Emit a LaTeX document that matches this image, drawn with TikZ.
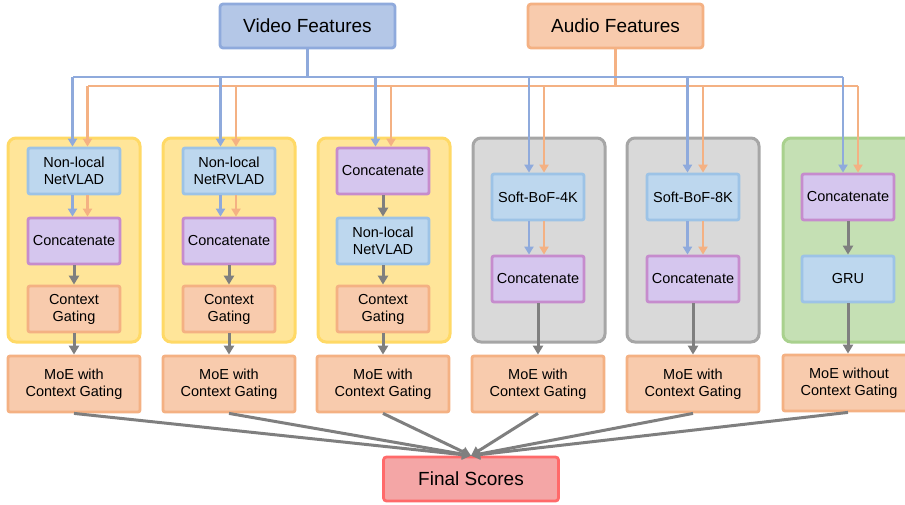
\documentclass[tikz,border=0pt]{standalone}
\usepackage{fontspec}
\setmainfont{Liberation Sans}
\usetikzlibrary{arrows.meta}

\definecolor{vidfill}{HTML}{B4C7E7}
\definecolor{vidline}{HTML}{8FAADC}
\definecolor{audfill}{HTML}{F8CBAD}
\definecolor{audline}{HTML}{F4B183}
\definecolor{yelfill}{HTML}{FFE599}
\definecolor{yelline}{HTML}{FFD966}
\definecolor{greyfill}{HTML}{D9D9D9}
\definecolor{greyline}{HTML}{A6A6A6}
\definecolor{grnfill}{HTML}{C5E0B4}
\definecolor{grnline}{HTML}{A9D18E}
\definecolor{encfill}{HTML}{BDD7EE}
\definecolor{encline}{HTML}{9DC3E6}
\definecolor{catfill}{HTML}{D5C6EE}
\definecolor{catline}{HTML}{C68CCD}
\definecolor{scorefill}{HTML}{F4A6A6}
\definecolor{scoreline}{HTML}{FF6A6A}
\definecolor{flow}{HTML}{7F7F7F}

\begin{document}
\begin{tikzpicture}[x=1pt,y=-1pt,
  featbox/.style={draw,rounded corners=3pt,line width=2.8pt,minimum width=175pt,minimum height=44pt,inner sep=0pt,font=\fontsize{19}{22}\selectfont},
  panel/.style={draw,rounded corners=8pt,line width=3pt,minimum width=132pt,minimum height=204pt,inner sep=0pt},
  blockbox/.style={draw,rounded corners=2pt,line width=2.8pt,minimum width=92pt,minimum height=46pt,inner sep=0pt,align=center,font=\fontsize{14.5}{17}\selectfont},
  enc/.style={blockbox,fill=encfill,draw=encline},
  cat/.style={blockbox,fill=catfill,draw=catline},
  gate/.style={blockbox,fill=audfill,draw=audline},
  moe/.style={gate,minimum width=132pt,minimum height=56pt},
  vline/.style={draw=vidline,line width=2.8pt},
  aline/.style={draw=audline,line width=2.8pt},
  vtip/.style={vline,-{Triangle[length=8pt,width=9pt]}},
  atip/.style={aline,-{Triangle[length=8pt,width=9pt]}},
  gtip/.style={draw=flow,line width=3pt,-{Triangle[length=9pt,width=10pt]}}]

\useasboundingbox (0,0) rectangle (905,504);

% inputs
\node [featbox,fill=vidfill,draw=vidline] (video) at (307.5,26) {Video Features};
\node [featbox,fill=audfill,draw=audline] (audio) at (615.5,26) {Audio Features};

% panels
\node [panel,fill=yelfill,draw=yelline] (p1) at (74,240) {};
\node [panel,fill=yelfill,draw=yelline] (p2) at (229,240) {};
\node [panel,fill=yelfill,draw=yelline] (p3) at (384,240) {};
\node [panel,fill=greyfill,draw=greyline] (p4) at (539,240) {};
\node [panel,fill=greyfill,draw=greyline] (p5) at (693,240) {};
\node [panel,fill=grnfill,draw=grnline] (p6) at (849,240) {};

% column 1
\node [enc] (a1) at (74,171) {Non-local\\NetVLAD};
\node [cat] (b1) at (74,241) {Concatenate};
\node [gate] (c1) at (74,309) {Context\\Gating};
% column 2
\node [enc] (a2) at (229,171) {Non-local\\NetRVLAD};
\node [cat] (b2) at (229,241) {Concatenate};
\node [gate] (c2) at (229,309) {Context\\Gating};
% column 3
\node [cat] (a3) at (383,171) {Concatenate};
\node [enc] (b3) at (383,241) {Non-local\\NetVLAD};
\node [gate] (c3) at (383,309) {Context\\Gating};
% column 4
\node [enc] (a4) at (538,197) {Soft-BoF-4K};
\node [cat] (b4) at (538,279) {Concatenate};
% column 5
\node [enc] (a5) at (693,197) {Soft-BoF-8K};
\node [cat] (b5) at (693,279) {Concatenate};
% column 6
\node [cat] (a6) at (848,197) {Concatenate};
\node [enc] (b6) at (848,279) {GRU};

% classifiers
\node [moe] (m1) at (74,384) {MoE with\\Context Gating};
\node [moe] (m2) at (229,384) {MoE with\\Context Gating};
\node [moe] (m3) at (383,384) {MoE with\\Context Gating};
\node [moe] (m4) at (538,384) {MoE with\\Context Gating};
\node [moe] (m5) at (693,384) {MoE with\\Context Gating};
\node [moe] (m6) at (849,383) {MoE without\\Context Gating};

\node [featbox,fill=scorefill,draw=scoreline,minimum width=175pt,font=\fontsize{19}{22}\selectfont] (final) at (471,479) {Final Scores};

% bus points
\coordinate (vb1) at (72.5,77); \coordinate (ob1) at (87.5,86);
\coordinate (vb2) at (220.5,77); \coordinate (ob2) at (236,86);
\coordinate (vb3) at (375.5,77); \coordinate (ob3) at (391,86);
\coordinate (vb4) at (529,77); \coordinate (ob4) at (544,86);
\coordinate (vb5) at (687.5,77); \coordinate (ob5) at (703,86);
\coordinate (vb6) at (843,77); \coordinate (ob6) at (858,86);

% audio bus
\draw [aline] (audio.south) |- (ob1);
\draw [aline] (audio.south) |- (ob6);
\draw [atip] (ob1) -- (ob1 |- a1.north);
\draw [atip] (ob2) -- (ob2 |- a2.north);
\draw [atip] (ob3) -- (ob3 |- a3.north);
\draw [atip] (ob4) -- (ob4 |- a4.north);
\draw [atip] (ob5) -- (ob5 |- a5.north);
\draw [atip] (ob6) -- (ob6 |- a6.north);

% video bus
\draw [vline] (video.south) |- (vb1);
\draw [vline] (video.south) |- (vb6);
\draw [vtip] (vb1) -- (vb1 |- a1.north);
\draw [vtip] (vb2) -- (vb2 |- a2.north);
\draw [vtip] (vb3) -- (vb3 |- a3.north);
\draw [vtip] (vb4) -- (vb4 |- a4.north);
\draw [vtip] (vb5) -- (vb5 |- a5.north);
\draw [vtip] (vb6) -- (vb6 |- a6.north);

% separate streams inside the panels
\draw [vtip] (vb1 |- a1.south) -- (vb1 |- b1.north);
\draw [atip] (ob1 |- a1.south) -- (ob1 |- b1.north);
\draw [vtip] (vb2 |- a2.south) -- (vb2 |- b2.north);
\draw [atip] (ob2 |- a2.south) -- (ob2 |- b2.north);
\draw [vtip] (vb4 |- a4.south) -- (vb4 |- b4.north);
\draw [atip] (ob4 |- a4.south) -- (ob4 |- b4.north);
\draw [vtip] (vb5 |- a5.south) -- (vb5 |- b5.north);
\draw [atip] (ob5 |- a5.south) -- (ob5 |- b5.north);

% merged stream
\draw [gtip] (b1) -- (c1);
\draw [gtip] (b2) -- (c2);
\draw [gtip] (a3) -- (b3);
\draw [gtip] (b3) -- (c3);
\draw [gtip] (a6) -- (b6);

\draw [gtip] (c1) -- (m1);
\draw [gtip] (c2) -- (m2);
\draw [gtip] (c3) -- (m3);
\draw [gtip] (b4) -- (m4);
\draw [gtip] (b5) -- (m5);
\draw [gtip] (b6) -- (b6 |- m6.north);

% fusion
\draw [gtip] (m1.south) -- (final.north);
\draw [gtip] (m2.south) -- (final.north);
\draw [gtip] (m3.south) -- (final.north);
\draw [gtip] (m4.south) -- (final.north);
\draw [gtip] (m5.south) -- (final.north);
\draw [gtip] (m6.south -| b6) -- (final.north);

\end{tikzpicture}
\end{document}
